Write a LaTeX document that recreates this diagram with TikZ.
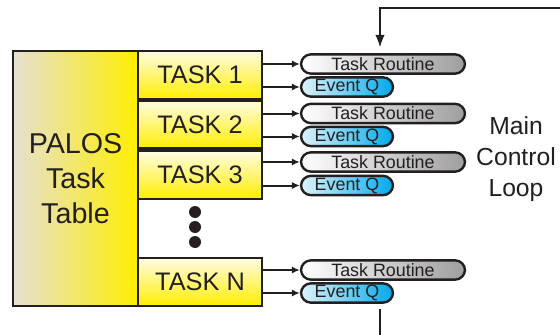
\documentclass[tikz,border=0pt]{standalone}
\usepackage{fontspec}
\setmainfont{Liberation Sans}
\usepackage{tikz}
\usetikzlibrary{arrows.meta}

\definecolor{ink}{RGB}{35,31,32}
\definecolor{tanshade}{RGB}{230,224,210}
\definecolor{yel}{RGB}{255,238,0}
\definecolor{cream}{RGB}{255,252,228}
\definecolor{qlight}{RGB}{222,242,251}
\definecolor{qdark}{RGB}{0,170,235}

\begin{document}
\begin{tikzpicture}[x=0.75pt,y=-0.75pt,
    tablebox/.style={draw=ink,line width=2.2pt,left color=tanshade,right color=yel,
        minimum width=93.75pt,minimum height=191.25pt,inner sep=0pt,align=center,
        text=ink,font=\fontsize{21.5pt}{26pt}\selectfont},
    taskbox/.style={draw=ink,line width=2.2pt,top color=cream,bottom color=yel,
        minimum width=93pt,minimum height=36pt,inner sep=0pt,
        text=ink,font=\fontsize{19pt}{22pt}\selectfont},
    routine/.style={draw=ink,line width=1.8pt,rounded corners=7.5pt,
        left color=white,right color=black!38,minimum width=123pt,
        minimum height=14.5pt,inner sep=0pt,text=ink,
        font=\fontsize{13.4pt}{14pt}\selectfont},
    eventq/.style={routine,left color=qlight,right color=qdark,minimum width=69pt},
    feed/.style={-{Latex[length=6pt,width=5.5pt]},draw=ink,line width=1.5pt},
    loopline/.style={draw=ink,line width=0.8pt}]
        \useasboundingbox (0,0) rectangle (560,335);
        % the task table on the left
        \node[tablebox] (table) at (75.5,178.5) {PALOS\\Task\\Table};
        % the task slots
        \node[taskbox] (t1) at (200,75) {TASK 1};
        \node[taskbox] (t2) at (200,124.5) {TASK 2};
        \node[taskbox] (t3) at (200,175) {TASK 3};
        \node[taskbox] (tN) at (200,282) {TASK N};
        % dots for the missing slots
        \foreach \y in {212,227,242}
            \fill[ink] (195,\y) circle (4.5pt);
        % routines and event queues
        \node[routine] (tr1) at (383,64) {Task Routine};
        \node[eventq] (eq1) at (347,87) {Event Q};
        \node[routine] (tr2) at (383,113.5) {Task Routine};
        \node[eventq] (eq2) at (347,136.5) {Event Q};
        \node[routine] (tr3) at (383,162) {Task Routine};
        \node[eventq] (eq3) at (347,185.5) {Event Q};
        \node[routine] (trN) at (383,270) {Task Routine};
        \node[eventq] (eqN) at (347,293) {Event Q};
        % arrows from each slot
        \draw[feed] (t1.east |- tr1) -- (tr1.west);
        \draw[feed] (t1.east |- eq1) -- (eq1.west);
        \draw[feed] (t2.east |- tr2) -- (tr2.west);
        \draw[feed] (t2.east |- eq2) -- (eq2.west);
        \draw[feed] (t3.east |- tr3) -- (tr3.west);
        \draw[feed] (t3.east |- eq3) -- (eq3.west);
        \draw[feed] (tN.east |- trN) -- (trN.west);
        \draw[feed] (tN.east |- eqN) -- (eqN.west);
        % main control loop
        \coordinate (loopin) at (560,8);
        \coordinate (loopdown) at (380,47);
        \coordinate (loopback) at (380,309);
        \coordinate (loopend) at (380,335);
        \draw[loopline,-{Latex[length=9pt,width=7pt]}] (loopin) -| (loopdown);
        \draw[loopline] (loopback) -- (loopend);
        \node[text=ink,align=center,font=\fontsize{18.5pt}{23pt}\selectfont] (looplabel) at (516,159) {Main\\Control\\Loop};
\end{tikzpicture}
\end{document}
